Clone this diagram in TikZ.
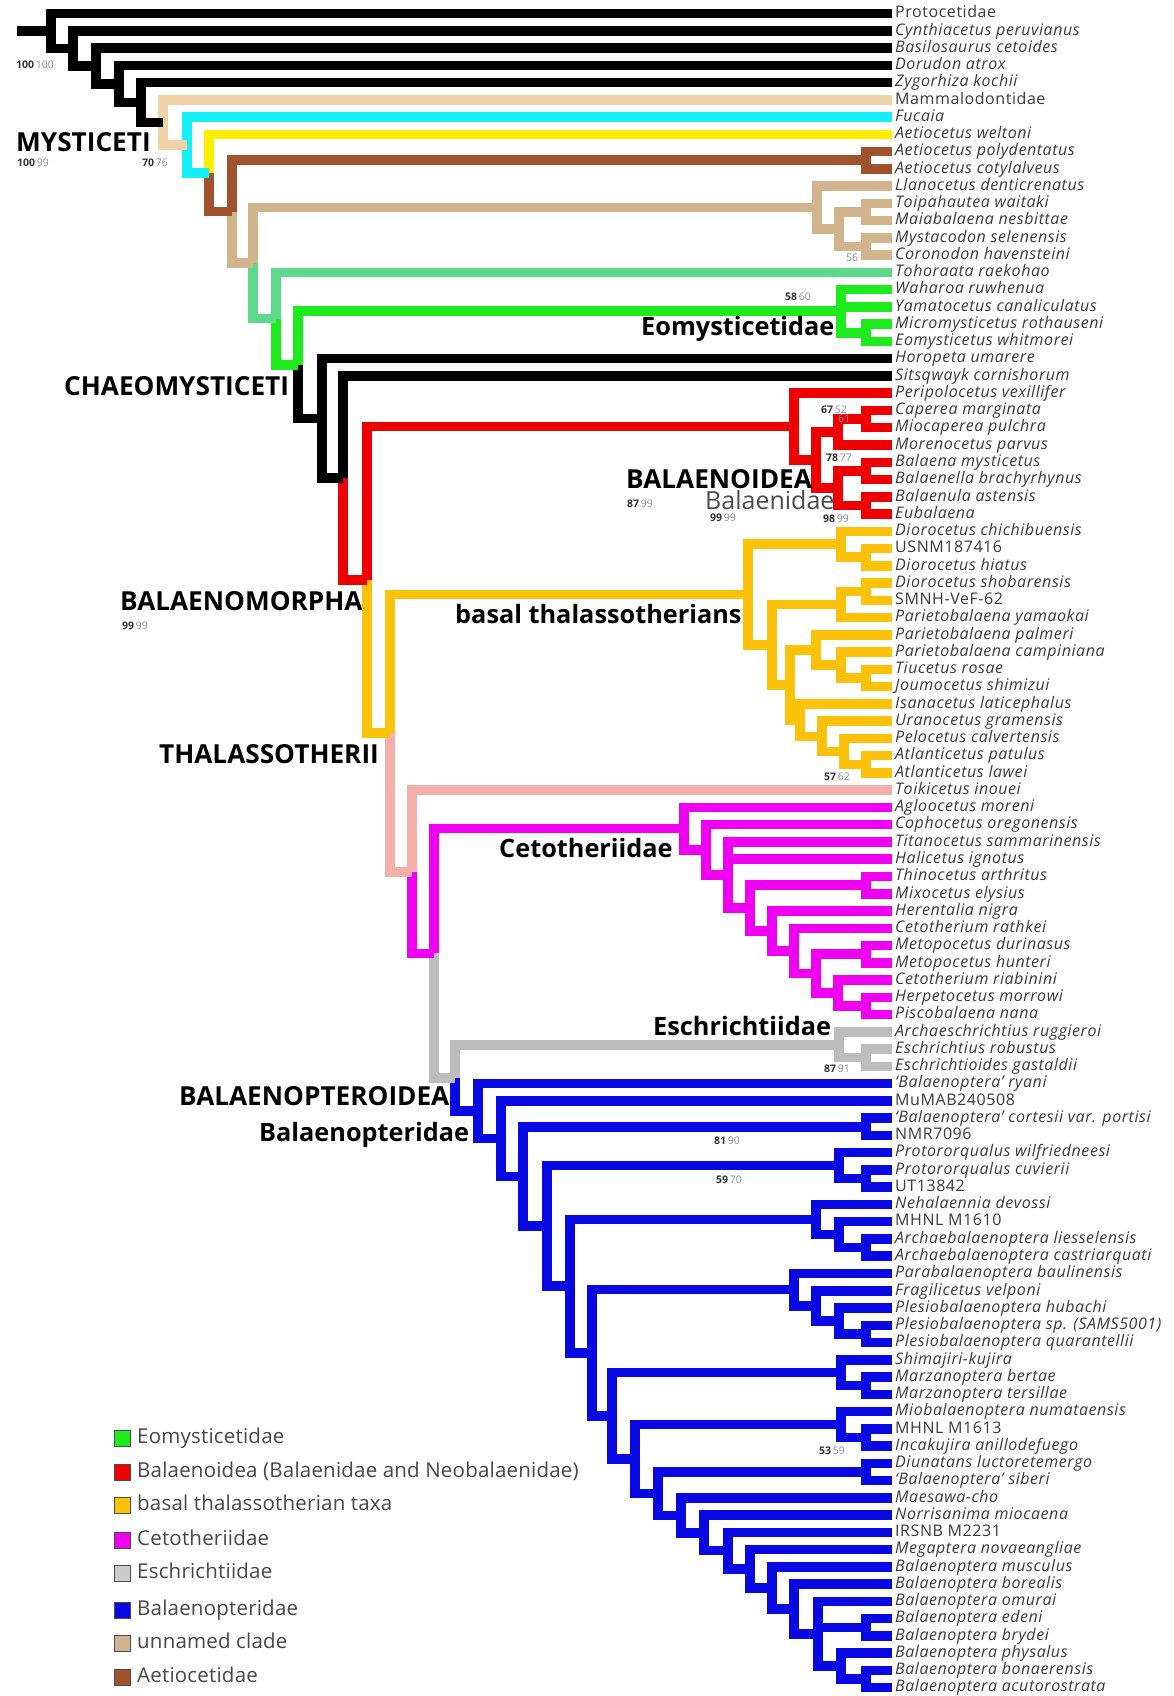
\documentclass[tikz,border=0pt]{standalone}
\usepackage{fontspec}
\setmainfont{Open Sans}
\newfontfamily\tipfont{Open Sans}[LetterSpace=3.5]
\newfontfamily\legfont{Open Sans}[LetterSpace=1]
\usetikzlibrary{calc}
\definecolor{cBlack}{HTML}{000000}
\definecolor{cPeach}{HTML}{F0D2A8}
\definecolor{cCyan}{HTML}{14F0F5}
\definecolor{cYellow}{HTML}{FFEE00}
\definecolor{cBrown}{HTML}{A0522D}
\definecolor{cTan}{HTML}{D2B48C}
\definecolor{cLGreen}{HTML}{5ED88A}
\definecolor{cGreen}{HTML}{1EEB1E}
\definecolor{cRed}{HTML}{EE0000}
\definecolor{cOr}{HTML}{FCC20A}
\definecolor{cPink}{HTML}{F4AFAA}
\definecolor{cMag}{HTML}{F000F0}
\definecolor{cGray}{HTML}{BDBDBD}
\definecolor{cBlue}{HTML}{0808E2}
\definecolor{tipgray}{HTML}{3A3A3A}
\definecolor{supgray}{HTML}{8A8A9A}
\newcommand\tip[2]{%
  \pgfmathsetmacro\tipy{13.5+(#1-1)*17.26}%
  \pgfmathsetmacro\laby{\tipy+1.5}%
  \coordinate (e#1) at (892,\tipy);
  \node[tiplab] (n#1) at (895,\laby) {#2};}
\newcommand\clade[6]{%
  \path let \p1=(#3), \p2=(#5) in coordinate (#1) at (#2pt,{0.5*\y1+0.5*\y2});
  \draw[br,#4] (#1) |- (#3);
  \draw[br,#6] (#1) |- (#5);}
\newcommand\cladeiii[8]{%
  \path let \p1=(#3), \p2=(#7) in coordinate (#1) at (#2pt,{0.5*\y1+0.5*\y2});
  \draw[br,#4] (#1) |- (#3);
  \draw[br,#6] (#1) |- (#5);
  \draw[br,#8] (#1) |- (#7);}
\newcommand\supp[5]{\node[suplab] (#1) at (#2,#3) {\textbf{#4}\,{\color{supgray}#5}};}
\begin{document}
\begin{tikzpicture}[x=1pt,y=-1pt,
  br/.style={line width=9.5pt, line cap=butt, line join=miter},
  tiplab/.style={anchor=west, inner sep=0pt, text=tipgray, font=\tipfont\fontsize{16}{16}\selectfont\itshape, text height=0.75em, text depth=0.2em},
  cladelab/.style={anchor=west, inner sep=0pt, text=black, font=\fontsize{26.2}{26.2}\selectfont\bfseries, text height=0.72em, text depth=0pt},
  cladelow/.style={cladelab, font=\fontsize{25.3}{25.3}\selectfont\bfseries},
  suplab/.style={anchor=west, inner sep=0pt, text=black!80, font=\fontsize{10.5}{10.5}\selectfont},
  legbox/.style={draw=black!70, line width=1pt, minimum width=16pt, minimum height=16pt, inner sep=0pt},
  leglab/.style={anchor=west, inner sep=0pt, text=black!72, font=\legfont\fontsize{20.5}{20.5}\selectfont, text height=0.72em, text depth=0.2em}]
\useasboundingbox (0,0) rectangle (1173,1696);
\fill[white] (0,0) rectangle (1173,1696);
% ---------- tips ----------
\tip{1}{\textup{Protocetidae}}
\tip{2}{Cynthiacetus peruvianus}
\tip{3}{Basilosaurus cetoides}
\tip{4}{Dorudon atrox}
\tip{5}{Zygorhiza kochii}
\tip{6}{\textup{Mammalodontidae}}
\tip{7}{Fucaia}
\tip{8}{Aetiocetus weltoni}
\tip{9}{Aetiocetus polydentatus}
\tip{10}{Aetiocetus cotylalveus}
\tip{11}{Llanocetus denticrenatus}
\tip{12}{Toipahautea waitaki}
\tip{13}{Maiabalaena nesbittae}
\tip{14}{Mystacodon selenensis}
\tip{15}{Coronodon havensteini}
\tip{16}{Tohoraata raekohao}
\tip{17}{Waharoa ruwhenua}
\tip{18}{Yamatocetus canaliculatus}
\tip{19}{Micromysticetus rothauseni}
\tip{20}{Eomysticetus whitmorei}
\tip{21}{Horopeta umarere}
\tip{22}{Sitsqwayk cornishorum}
\tip{23}{Peripolocetus vexillifer}
\tip{24}{Caperea marginata}
\tip{25}{Miocaperea pulchra}
\tip{26}{Morenocetus parvus}
\tip{27}{Balaena mysticetus}
\tip{28}{Balaenella brachyrhynus}
\tip{29}{Balaenula astensis}
\tip{30}{Eubalaena}
\tip{31}{Diorocetus chichibuensis}
\tip{32}{\textup{USNM187416}}
\tip{33}{Diorocetus hiatus}
\tip{34}{Diorocetus shobarensis}
\tip{35}{\textup{SMNH-VeF-62}}
\tip{36}{Parietobalaena yamaokai}
\tip{37}{Parietobalaena palmeri}
\tip{38}{Parietobalaena campiniana}
\tip{39}{Tiucetus rosae}
\tip{40}{Joumocetus shimizui}
\tip{41}{Isanacetus laticephalus}
\tip{42}{Uranocetus gramensis}
\tip{43}{Pelocetus calvertensis}
\tip{44}{Atlanticetus patulus}
\tip{45}{Atlanticetus lawei}
\tip{46}{Toikicetus inouei}
\tip{47}{Agloocetus moreni}
\tip{48}{Cophocetus oregonensis}
\tip{49}{Titanocetus sammarinensis}
\tip{50}{Halicetus ignotus}
\tip{51}{Thinocetus arthritus}
\tip{52}{Mixocetus elysius}
\tip{53}{Herentalia nigra}
\tip{54}{Cetotherium rathkei}
\tip{55}{Metopocetus durinasus}
\tip{56}{Metopocetus hunteri}
\tip{57}{Cetotherium riabinini}
\tip{58}{Herpetocetus morrowi}
\tip{59}{Piscobalaena nana}
\tip{60}{Archaeschrichtius ruggieroi}
\tip{61}{Eschrichtius robustus}
\tip{62}{Eschrichtioides gastaldii}
\tip{63}{‘Balaenoptera’ ryani}
\tip{64}{\textup{MuMAB240508}}
\tip{65}{‘Balaenoptera’ cortesii var. portisi}
\tip{66}{\textup{NMR7096}}
\tip{67}{Protororqualus wilfriedneesi}
\tip{68}{Protororqualus cuvierii}
\tip{69}{\textup{UT13842}}
\tip{70}{Nehalaennia devossi}
\tip{71}{\textup{MHNL M1610}}
\tip{72}{Archaebalaenoptera liesselensis}
\tip{73}{Archaebalaenoptera castriarquati}
\tip{74}{Parabalaenoptera baulinensis}
\tip{75}{Fragilicetus velponi}
\tip{76}{Plesiobalaenoptera hubachi}
\tip{77}{Plesiobalaenoptera sp. (SAMS5001)}
\tip{78}{Plesiobalaenoptera quarantellii}
\tip{79}{Shimajiri-kujira}
\tip{80}{Marzanoptera bertae}
\tip{81}{Marzanoptera tersillae}
\tip{82}{Miobalaenoptera numataensis}
\tip{83}{\textup{MHNL M1613}}
\tip{84}{Incakujira anillodefuego}
\tip{85}{Diunatans luctoretemergo}
\tip{86}{‘Balaenoptera’ siberi}
\tip{87}{Maesawa-cho}
\tip{88}{Norrisanima miocaena}
\tip{89}{\textup{IRSNB M2231}}
\tip{90}{Megaptera novaeangliae}
\tip{91}{Balaenoptera musculus}
\tip{92}{Balaenoptera borealis}
\tip{93}{Balaenoptera omurai}
\tip{94}{Balaenoptera edeni}
\tip{95}{Balaenoptera brydei}
\tip{96}{Balaenoptera physalus}
\tip{97}{Balaenoptera bonaerensis}
\tip{98}{Balaenoptera acutorostrata}
% ---------- Aetiocetidae ----------
\clade{AE}{866}{e9}{cBrown}{e10}{cBrown}
% ---------- unnamed clade ----------
\clade{LTa}{866}{e12}{cTan}{e13}{cTan}
\clade{LTb}{866}{e14}{cTan}{e15}{cTan}
\clade{LTc}{839}{LTa}{cTan}{LTb}{cTan}
\clade{LL}{817}{e11}{cTan}{LTc}{cTan}
% ---------- Eomysticetidae ----------
\clade{EMa}{866}{e19}{cGreen}{e20}{cGreen}
\cladeiii{EM}{841}{e17}{cGreen}{e18}{cGreen}{EMa}{cGreen}
% ---------- Balaenoidea ----------
\clade{BOa}{866}{e24}{cRed}{e25}{cRed}
\clade{BOb}{838}{BOa}{cRed}{e26}{cRed}
\clade{BOc}{866}{e27}{cRed}{e28}{cRed}
\clade{BOd}{866}{e29}{cRed}{e30}{cRed}
\clade{BOe}{838}{BOc}{cRed}{BOd}{cRed}
\clade{BOf}{816}{BOb}{cRed}{BOe}{cRed}
\clade{BO}{794}{e23}{cRed}{BOf}{cRed}
% ---------- basal thalassotherians ----------
\clade{BTa}{866}{e32}{cOr}{e33}{cOr}
\clade{BTU}{841}{e31}{cOr}{BTa}{cOr}
\clade{BTb}{866}{e34}{cOr}{e35}{cOr}
\clade{BTLa}{841}{BTb}{cOr}{e36}{cOr}
\clade{BTc}{866}{e39}{cOr}{e40}{cOr}
\clade{BTd}{841}{e38}{cOr}{BTc}{cOr}
\clade{BTe}{816}{e37}{cOr}{BTd}{cOr}
\clade{BTf}{866}{e44}{cOr}{e45}{cOr}
\clade{BTg}{844}{e43}{cOr}{BTf}{cOr}
\clade{BTh}{822}{e42}{cOr}{BTg}{cOr}
\clade{BTi}{800}{e41}{cOr}{BTh}{cOr}
\clade{BTLb}{790}{BTe}{cOr}{BTi}{cOr}
\clade{BTL}{772}{BTLa}{cOr}{BTLb}{cOr}
\clade{BT}{748}{BTU}{cOr}{BTL}{cOr}
% ---------- Cetotheriidae ----------
\clade{CTa}{866}{e58}{cMag}{e59}{cMag}
\clade{CTh}{838}{e57}{cMag}{CTa}{cMag}
\clade{CTb}{866}{e55}{cMag}{e56}{cMag}
\clade{CTg}{816}{CTb}{cMag}{CTh}{cMag}
\clade{CTf}{794}{e54}{cMag}{CTg}{cMag}
\clade{CTe}{772}{e53}{cMag}{CTf}{cMag}
\clade{CTc}{866}{e51}{cMag}{e52}{cMag}
\clade{CTd}{750}{CTc}{cMag}{CTe}{cMag}
\cladeiii{CTk}{728}{e49}{cMag}{e50}{cMag}{CTd}{cMag}
\clade{CTj}{706}{e48}{cMag}{CTk}{cMag}
\clade{CT}{684}{e47}{cMag}{CTj}{cMag}
% ---------- Eschrichtiidae ----------
\clade{ESa}{866}{e61}{cGray}{e62}{cGray}
\clade{ES}{839}{e60}{cGray}{ESa}{cGray}
% ---------- Balaenopteridae ----------
\clade{BPa}{866}{e65}{cBlue}{e66}{cBlue}
\clade{BPb}{866}{e68}{cBlue}{e69}{cBlue}
\clade{BPc}{839}{e67}{cBlue}{BPb}{cBlue}
\clade{BPd}{866}{e72}{cBlue}{e73}{cBlue}
\clade{BPe}{839}{e71}{cBlue}{BPd}{cBlue}
\clade{BPf}{816}{e70}{cBlue}{BPe}{cBlue}
\clade{BPg}{866}{e77}{cBlue}{e78}{cBlue}
\clade{BPh}{839}{e76}{cBlue}{BPg}{cBlue}
\clade{BPi}{816}{e75}{cBlue}{BPh}{cBlue}
\clade{BPj}{794}{e74}{cBlue}{BPi}{cBlue}
\clade{BPk}{866}{e80}{cBlue}{e81}{cBlue}
\clade{BPl}{841}{e79}{cBlue}{BPk}{cBlue}
\clade{BPm}{866}{e83}{cBlue}{e84}{cBlue}
\clade{BPn}{841}{e82}{cBlue}{BPm}{cBlue}
\clade{BPo}{866}{e85}{cBlue}{e86}{cBlue}
\clade{BPp}{866}{e94}{cBlue}{e95}{cBlue}
\clade{BPq}{866}{e97}{cBlue}{e98}{cBlue}
\clade{BPr}{841}{e96}{cBlue}{BPq}{cBlue}
\cladeiii{Qomu}{818}{e93}{cBlue}{BPp}{cBlue}{BPr}{cBlue}
\clade{Qbor}{794}{e92}{cBlue}{Qomu}{cBlue}
\clade{Qmus}{772}{e91}{cBlue}{Qbor}{cBlue}
\clade{Qmeg}{750}{e90}{cBlue}{Qmus}{cBlue}
\clade{Qirs}{728}{e89}{cBlue}{Qmeg}{cBlue}
\clade{Qnor}{704}{e88}{cBlue}{Qirs}{cBlue}
\clade{Qmae}{681}{e87}{cBlue}{Qnor}{cBlue}
\clade{Qdiu}{658}{BPo}{cBlue}{Qmae}{cBlue}
\clade{Qmio}{635}{BPn}{cBlue}{Qdiu}{cBlue}
\clade{Qshi}{612}{BPl}{cBlue}{Qmio}{cBlue}
\clade{Pf}{592}{BPj}{cBlue}{Qshi}{cBlue}
\clade{Pe}{570}{BPf}{cBlue}{Pf}{cBlue}
\clade{Pd}{547}{BPc}{cBlue}{Pe}{cBlue}
\clade{Pc}{523}{BPa}{cBlue}{Pd}{cBlue}
\clade{Pb}{501}{e64}{cBlue}{Pc}{cBlue}
\clade{Pa}{478}{e63}{cBlue}{Pb}{cBlue}
% ---------- backbone ----------
\clade{Bpt}{455}{ES}{cGray}{Pa}{cBlue}
\clade{Tc}{434}{CT}{cMag}{Bpt}{cGray}
\clade{Tb}{412}{e46}{cPink}{Tc}{cMag}
\clade{Thal}{390}{BT}{cOr}{Tb}{cPink}
\clade{Bmor}{367}{BO}{cRed}{Thal}{cOr}
\clade{Ln}{343}{e22}{cBlack}{Bmor}{cRed}
\clade{Chaeo}{322}{e21}{cBlack}{Ln}{cBlack}
\clade{Kn}{298}{EM}{cGreen}{Chaeo}{cBlack}
\clade{Jn}{276}{e16}{cLGreen}{Kn}{cGreen}
\clade{In}{253}{LL}{cTan}{Jn}{cLGreen}
\clade{Hn}{232}{AE}{cBrown}{In}{cTan}
\clade{Gn}{209}{e8}{cYellow}{Hn}{cBrown}
\clade{Fn}{187}{e7}{cCyan}{Gn}{cCyan}
\clade{My}{163}{e6}{cPeach}{Fn}{cPeach}
\clade{En}{141}{e5}{cBlack}{My}{cBlack}
\clade{Dn}{119}{e4}{cBlack}{En}{cBlack}
\clade{Cn}{96}{e3}{cBlack}{Dn}{cBlack}
\clade{Bn}{73}{e2}{cBlack}{Cn}{cBlack}
\clade{Rn}{51}{e1}{cBlack}{Bn}{cBlack}
\path let \p1=(Rn) in coordinate (r0) at (17pt,\y1);
\draw[br,cBlack] (r0) -- (Rn);
% ---------- clade labels ----------
\node[cladelab] (lMys) at (16,148) {MYSTICETI};
\node[cladelab] (lChaeo) at (64,392) {CHAEOMYSTICETI};
\node[cladelow] (lEomy) at (641,332) {Eomysticetidae};
\node[cladelab] (lBaln) at (626,485) {BALAENOIDEA};
\node[cladelab, font=\fontsize{25}{25}\selectfont, text=black!70] (lBalnd) at (705,506) {Balaenidae};
\node[cladelab] (lBmor) at (120,607) {BALAENOMORPHA};
\node[cladelow] (lBasal) at (455,620) {basal thalassotherians};
\node[cladelab] (lThal) at (159,760) {THALASSOTHERII};
\node[cladelow] (lCeto) at (499,854) {Cetotheriidae};
\node[cladelow] (lEsch) at (653,1032) {Eschrichtiidae};
\node[cladelab] (lBpt) at (179,1102) {BALAENOPTEROIDEA};
\node[cladelow] (lBptd) at (259,1138) {Balaenopteridae};
% ---------- support values ----------
\supp{s1}{16}{65}{100}{100}
\supp{s2}{17}{163}{100}{99}
\supp{s3}{142}{163}{70}{76}
\supp{s4}{785}{297}{58}{60}
\node[suplab, text=supgray] (s5) at (846,258) {56};
\supp{s6}{821}{410}{67}{52}
\node[suplab, text=supgray] (s7) at (838,419) {61};
\supp{s8}{826}{458}{78}{77}
\supp{s9}{627}{504}{87}{99}
\supp{s10}{710}{518}{99}{99}
\supp{s11}{823}{519}{98}{99}
\supp{s12}{122}{626}{99}{99}
\supp{s13}{824}{777}{57}{62}
\supp{s14}{824}{1069}{87}{91}
\supp{s15}{714}{1141}{81}{90}
\supp{s16}{716}{1180}{59}{70}
\supp{s17}{819}{1451}{53}{59}
% ---------- legend ----------
\node[legbox, fill=cGreen] (k1) at (122,1438) {};
\node[leglab] (k1t) at (137,1441) {Eomysticetidae};
\node[legbox, fill=cRed] (k2) at (122,1472) {};
\node[leglab] (k2t) at (137,1475) {Balaenoidea (Balaenidae and Neobalaenidae)};
\node[legbox, fill=cOr] (k3) at (122,1505) {};
\node[leglab] (k3t) at (137,1508) {basal thalassotherian taxa};
\node[legbox, fill=cMag] (k4) at (122,1540) {};
\node[leglab] (k4t) at (137,1543) {Cetotheriidae};
\node[legbox, fill=black!20] (k5) at (122,1573) {};
\node[leglab] (k5t) at (137,1576) {Eschrichtiidae};
\node[legbox, fill=cBlue] (k6) at (122,1610) {};
\node[leglab] (k6t) at (137,1613) {Balaenopteridae};
\node[legbox, fill=cTan] (k7) at (122,1643) {};
\node[leglab] (k7t) at (137,1646) {unnamed clade};
\node[legbox, fill=cBrown] (k8) at (122,1677) {};
\node[leglab] (k8t) at (137,1680) {Aetiocetidae};
\end{tikzpicture}
\end{document}
